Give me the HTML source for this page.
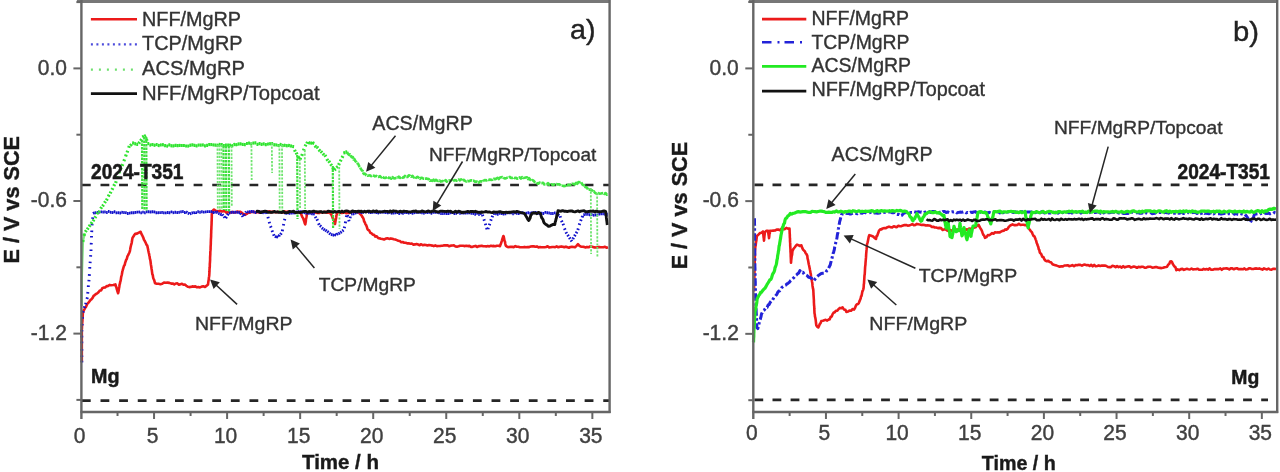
<!DOCTYPE html>
<html><head><meta charset="utf-8"><style>
html,body{margin:0;padding:0;background:#fff;width:1280px;height:472px;overflow:hidden}
svg{display:block;filter:blur(0.55px);font-family:"Liberation Sans", sans-serif}
</style></head><body>
<svg width="1280" height="472" viewBox="0 0 1280 472" font-family='"Liberation Sans", sans-serif'>
<rect width="1280" height="472" fill="#fff"/>
<line x1="81.9" y1="185" x2="609" y2="185" stroke="#262626" stroke-width="2.7" stroke-dasharray="8.8 9.82"/>
<line x1="81.9" y1="400.6" x2="609" y2="400.6" stroke="#262626" stroke-width="2.7" stroke-dasharray="8.8 9.82"/>
<polyline points="81.8,361.8 81.8,360.0 81.8,359.2 81.8,356.8 81.8,356.0 81.8,354.2 81.8,352.2 81.8,351.3 81.8,349.2 81.8,348.2 81.8,346.2 81.8,344.7 81.8,343.6 81.8,342.6 81.8,340.1 81.8,338.8 81.8,337.8 81.8,336.7 81.8,334.7 81.8,332.9 81.8,332.2 81.8,329.4 81.9,328.9 82.0,326.6 82.1,324.8 82.2,323.2 82.3,321.9 82.4,321.1 82.5,318.6 82.6,317.6 82.7,316.1 82.8,314.2 82.9,312.9 83.6,310.7 84.4,309.3 85.1,308.0 85.8,307.2 86.6,305.4 87.3,303.7 88.4,302.8 89.4,301.4 90.5,299.9 91.5,299.3 92.6,297.9 93.6,295.9 94.7,295.1 96.0,294.0 97.2,293.4 98.5,292.2 99.8,290.5 101.1,290.5 102.3,288.2 103.6,287.6 105.1,287.5 106.6,286.1 108.0,286.1 109.5,284.9 111.0,285.2 113.2,285.0 115.4,284.4 115.9,286.3 116.3,287.0 116.8,289.1 117.2,290.4 117.6,291.9 118.1,293.2 118.4,292.1 118.7,290.6 119.0,288.3 119.3,286.9 119.6,284.4 119.9,283.7 120.2,282.0 120.6,280.9 120.9,279.1 121.2,276.8 121.6,275.4 121.9,274.2 122.3,271.7 122.6,270.7 123.1,268.8 123.6,267.2 124.1,265.6 124.7,265.0 125.2,262.6 125.7,261.2 126.2,259.8 126.8,259.0 127.4,256.4 128.0,255.4 128.6,254.1 129.2,253.0 129.8,251.4 130.1,249.9 130.5,247.5 130.8,246.2 131.2,244.5 131.5,243.7 131.8,242.2 132.2,239.5 132.5,237.9 133.4,236.5 134.3,235.0 135.2,233.9 137.0,233.6 138.8,232.6 140.6,231.8 141.5,234.1 142.4,235.7 143.3,237.6 143.9,239.5 144.6,240.6 145.2,241.8 145.9,243.3 146.5,244.8 147.2,245.4 147.8,248.0 148.1,249.4 148.4,251.1 148.7,252.6 149.0,253.6 149.3,255.3 149.6,256.4 149.9,258.8 150.2,259.6 150.5,261.2 150.7,263.0 150.9,264.5 151.2,266.3 151.4,267.5 151.6,269.0 151.9,270.8 152.1,272.3 152.3,274.2 152.8,275.2 153.2,277.9 153.7,279.1 154.1,279.9 154.6,281.6 155.0,283.2 156.8,283.7 158.6,283.8 160.4,284.2 162.2,283.8 164.0,282.5 165.8,282.8 167.6,282.6 169.4,282.9 171.2,283.6 172.7,283.5 174.3,284.4 175.8,283.5 177.4,283.4 178.9,284.8 180.5,284.3 182.0,283.8 183.4,284.8 184.9,284.6 186.3,285.7 187.8,286.8 189.2,287.1 190.7,286.9 192.3,286.4 193.8,286.6 195.4,286.4 196.9,287.3 198.5,287.0 200.0,287.4 201.7,286.6 203.3,286.3 205.0,286.9 206.5,285.9 208.0,284.5 208.2,282.9 208.4,281.4 208.7,279.8 208.9,277.6 209.1,276.5 209.3,274.8 209.4,272.8 209.5,271.2 209.5,270.0 209.6,268.4 209.7,267.5 209.8,266.3 209.8,264.0 209.9,263.1 210.0,261.6 210.1,260.0 210.1,257.6 210.2,255.9 210.3,254.3 210.3,252.7 210.4,251.1 210.5,250.2 210.6,249.0 210.6,247.4 210.7,245.3 210.8,244.0 210.8,242.6 210.9,240.0 210.9,239.3 211.0,238.1 211.1,236.3 211.1,234.7 211.2,232.8 211.2,230.8 211.3,230.1 211.4,227.9 211.4,227.0 211.5,225.7 211.6,223.3 211.6,221.8 211.7,221.0 211.7,219.1 211.8,216.8 211.8,215.1 211.9,213.6 211.9,213.1 212.0,211.4 214.0,209.5 215.6,210.7 217.1,211.2 218.7,211.1 220.3,210.9 221.9,211.5 223.4,211.2 225.0,211.3 226.5,212.7 228.0,212.2 229.5,212.0 231.0,212.6 232.5,211.9 234.0,212.5 235.5,212.5 237.0,211.6 238.5,211.7 240.0,211.7 241.7,212.6 243.3,214.1 245.0,214.7 246.7,213.9 248.3,212.5 250.0,212.6 251.5,211.8 253.0,211.9 254.5,212.1 256.1,212.6 257.6,211.9 259.1,212.6 260.6,212.0 262.1,212.0 263.6,212.0 265.2,211.3 266.7,211.9 268.2,211.6 269.7,211.3 271.2,212.4 272.7,211.5 274.2,212.0 275.8,212.3 277.3,212.1 278.8,211.8 280.3,212.0 281.8,212.1 283.3,212.4 284.8,211.4 286.4,212.1 287.9,211.6 289.4,211.7 290.9,212.4 292.4,212.0 293.9,212.1 295.5,212.4 297.0,212.6 298.5,211.9 300.0,212.2 300.8,213.5 301.5,215.0 302.2,216.8 303.0,217.9 303.6,219.5 304.1,221.0 304.7,223.1 305.3,224.3 305.5,223.0 305.8,221.5 306.0,218.9 306.3,217.8 306.5,216.8 306.8,215.0 307.0,212.5 308.5,212.4 310.1,212.8 311.6,212.2 313.1,212.4 314.7,212.1 316.2,212.8 317.7,212.9 319.3,213.0 320.8,211.9 322.3,212.6 323.9,212.5 325.4,211.7 326.9,212.7 328.5,212.7 330.0,211.6 330.8,214.1 331.5,214.9 332.2,216.5 333.0,218.7 333.5,220.0 334.0,220.5 334.5,222.4 335.0,224.0 335.3,222.2 335.6,220.4 335.9,219.0 336.1,218.0 336.4,215.5 336.7,214.6 337.0,212.9 338.5,212.2 340.1,212.6 341.6,212.9 343.2,212.7 344.7,212.0 346.2,213.2 347.8,212.9 349.3,213.0 350.8,211.8 352.4,211.9 353.9,211.5 355.5,212.5 357.0,211.7 358.6,212.5 360.1,213.9 361.7,215.6 362.3,216.9 363.0,217.7 363.6,219.0 364.2,221.6 364.9,222.6 365.5,224.3 366.1,224.9 366.7,226.4 367.4,228.8 368.0,229.9 369.2,230.5 370.4,232.8 371.6,233.4 372.8,234.7 374.0,234.8 375.4,236.6 376.7,236.2 378.1,238.1 379.4,238.2 380.8,238.8 382.5,239.0 384.1,239.5 385.8,238.6 387.5,238.3 389.1,238.9 390.8,238.4 392.3,238.7 393.8,239.2 395.3,239.5 396.8,240.1 398.3,240.7 399.8,241.1 401.2,242.2 402.7,242.0 404.2,242.7 405.7,242.7 407.2,243.4 408.7,243.3 410.3,243.7 411.8,243.5 413.4,244.6 415.0,244.4 416.5,244.0 418.1,244.5 419.7,245.2 421.2,244.2 422.8,245.3 424.4,244.8 425.9,245.0 427.5,245.5 429.0,245.0 430.6,245.3 432.2,245.6 433.7,246.1 435.3,245.3 436.9,246.1 438.4,246.0 440.0,246.0 441.5,245.7 443.1,245.6 444.6,245.2 446.2,245.4 447.7,245.3 449.3,246.3 450.8,245.6 452.4,245.5 453.9,245.4 455.5,246.5 457.0,246.6 458.6,246.3 460.1,245.8 461.7,245.7 463.2,245.8 464.8,246.1 466.3,245.7 467.9,246.1 469.4,245.9 471.0,246.9 472.5,246.9 474.1,246.3 475.6,245.9 477.1,247.0 478.7,246.1 480.2,246.1 481.7,245.7 483.2,246.2 484.8,246.3 486.3,246.4 487.8,246.0 489.3,246.4 490.9,245.7 492.4,246.1 493.9,245.9 495.4,246.3 496.9,245.8 498.5,245.8 500.0,246.2 500.5,244.6 501.0,243.5 501.5,241.8 501.9,240.6 502.4,238.9 502.9,237.4 503.4,236.0 503.8,236.9 504.1,238.4 504.5,240.9 504.9,241.3 505.3,243.7 505.6,245.1 506.0,245.9 507.5,247.0 509.1,247.1 510.6,246.7 512.2,246.9 513.7,247.1 515.3,246.1 516.8,246.7 518.4,246.7 519.9,247.2 521.5,247.2 523.0,247.2 524.5,246.9 526.1,247.3 527.6,247.1 529.2,247.1 530.7,246.5 532.3,246.2 533.8,246.4 535.4,246.7 536.9,246.4 538.5,247.4 540.0,247.1 541.5,247.2 543.0,247.2 544.6,247.3 546.1,247.0 547.6,246.3 549.1,247.4 550.7,247.3 552.2,247.0 553.7,247.0 555.2,247.2 556.7,246.4 558.3,247.3 559.8,246.7 561.3,246.4 562.8,246.7 564.3,247.3 565.9,246.6 567.4,247.3 568.9,247.7 570.4,247.0 572.0,246.8 573.5,247.0 575.0,247.3 576.5,245.9 578.0,244.2 579.5,245.8 581.0,246.6 582.5,246.7 584.0,246.9 585.5,247.5 587.0,246.9 588.5,247.3 590.0,246.5 591.5,246.6 593.0,246.9 594.5,247.4 596.0,247.5 597.5,247.4 599.0,246.9 600.5,247.2 602.0,247.2 603.5,247.2 605.0,246.7 606.5,247.8 608.0,247.2" fill="none" stroke="#ec1a1a" stroke-width="2.6" stroke-linejoin="round" />
<path d="M81.8 362.4L81.8 360.8M81.8 357.0L81.8 355.4M81.8 350.7L81.8 349.1M81.8 343.2L81.8 341.6M81.8 337.4L81.8 335.8M81.8 331.5L81.8 329.9M82.1 325.5L82.2 323.9M82.5 318.7L82.6 317.1M82.9 312.5L83.4 311.0M84.2 308.0L84.7 306.4M85.6 304.3L86.0 302.8M86.9 299.0L87.4 297.4M87.7 293.6L87.9 292.0M88.3 287.0L88.4 285.4M88.9 281.4L89.0 279.8M89.3 275.8L89.4 274.2M89.7 268.6L89.8 267.0M90.1 263.2L90.2 261.7M90.6 256.7L90.7 255.1M91.0 251.0L91.0 249.4M91.2 244.5L91.3 242.9M91.5 237.6L91.5 236.0M91.7 232.1L91.8 230.5M92.0 225.4L92.1 223.8M92.6 218.9L92.8 217.4M93.0 213.6L94.4 212.8M94.8 213.1L96.2 212.4M96.6 212.4L98.2 212.4M98.5 212.2L100.1 212.1M100.4 211.9L102.0 211.9M102.3 212.1L103.9 212.0M104.2 212.0L105.8 211.9M106.1 212.5L107.7 212.5M108.0 211.5L109.6 211.4M109.9 212.3L111.5 212.4M111.8 212.5L113.4 212.6M113.7 211.7L115.3 211.8M115.6 212.8L117.2 212.9M117.5 212.6L119.1 212.7M119.4 213.0L121.0 213.0M121.3 212.3L122.9 212.4M123.2 212.5L124.8 212.6M125.1 212.6L126.7 212.7M127.0 213.5L128.6 213.5M128.9 213.1L130.5 213.1M130.8 212.8L132.4 212.7M132.7 212.8L134.3 212.7M134.6 212.5L136.2 212.4M136.5 212.1L138.1 212.1M138.4 212.1L140.0 212.0M140.3 212.9L141.9 212.8M142.2 212.1L143.8 212.1M144.1 212.8L145.7 212.7M146.0 211.9L147.6 211.8M147.9 211.8L149.5 211.7M149.8 212.0L151.4 212.0M151.7 211.7L153.3 211.7M153.6 211.9L155.2 212.0M155.5 212.7L157.1 212.7M157.4 212.6L159.0 212.7M159.3 212.6L160.9 212.6M161.2 212.4L162.8 212.5M163.1 212.8L164.7 212.9M165.0 212.9L166.6 212.9M166.9 212.5L168.5 212.5M168.8 212.7L170.4 212.8M170.7 211.9L172.3 211.9M172.6 212.7L174.2 212.6M174.5 212.3L176.1 212.2M176.4 212.6L178.0 212.5M178.3 212.4L179.9 212.3M180.2 211.9L181.8 211.8M182.1 211.6L183.7 211.5M184.0 212.5L185.6 212.5M186.0 211.9L187.5 212.5M187.9 213.1L189.4 213.7M189.8 213.9L191.2 213.3M191.6 213.1L193.1 212.5M193.5 212.9L195.0 212.3M195.4 212.6L197.0 212.6M197.3 211.7L198.9 211.7M199.2 212.2L200.8 212.2M201.1 211.8L202.7 211.8M203.0 212.1L204.6 212.1M204.9 211.9L206.5 211.9M206.8 211.6L208.4 211.6M208.7 211.6L210.3 211.6M210.6 211.6L212.2 211.6M212.5 212.5L214.1 212.5M214.4 211.8L215.9 212.3M216.3 212.0L217.8 212.5M218.2 213.4L219.7 213.8M220.1 214.0L221.6 214.5M222.2 214.3L223.1 215.6M224.0 216.4L224.9 217.7M225.7 218.2L226.6 216.8M227.4 215.2L228.2 213.8M228.8 212.8L230.4 212.7M230.7 212.4L232.3 212.2M232.6 212.4L234.2 212.2M234.5 212.2L236.1 212.1M236.4 212.4L238.0 212.3M238.3 212.6L239.9 212.5M240.5 213.1L241.3 214.5M242.2 215.5L243.0 216.9M243.9 215.4L244.7 214.1M245.6 212.7L246.4 211.4M247.1 211.9L248.7 211.9M249.0 211.8L250.6 211.8M250.9 211.5L252.5 211.5M252.8 211.7L254.4 211.7M254.7 212.6L256.3 212.6M256.6 211.6L258.2 211.6M258.5 212.0L260.1 212.0M260.4 212.2L262.0 212.2M262.3 212.5L263.9 212.8M264.2 212.1L265.8 212.4M266.6 212.1L267.1 213.7M267.9 216.8L268.3 218.4M269.2 221.8L269.6 223.3M270.5 226.1L271.1 227.6M272.0 230.5L272.6 232.0M273.5 234.2L274.1 235.7M275.0 236.2L276.3 237.1M276.8 236.5L278.1 237.5M278.8 236.2L279.7 234.9M280.5 234.5L281.4 233.1M282.3 231.2L282.6 229.6M283.4 225.5L283.7 223.9M284.5 220.4L284.8 218.9M285.6 214.5L285.9 213.0M286.6 212.8L288.2 212.7M288.5 213.3L290.1 213.2M290.4 213.1L292.0 213.0M292.3 213.0L293.9 212.9M294.2 213.0L295.8 212.9M296.1 212.0L297.7 211.9M298.0 211.7L299.6 211.6M299.9 211.6L301.5 211.7M301.8 212.2L303.4 212.4M303.7 212.6L305.3 212.7M305.6 213.1L307.2 213.2M307.5 213.0L309.1 213.2M309.4 213.0L311.0 213.4M311.3 213.6L312.9 214.0M313.2 213.8L314.8 214.1M315.3 216.6L316.0 218.0M316.9 219.2L317.6 220.7M318.5 223.4L319.2 224.8M319.9 225.6L321.2 226.6M321.8 227.9L323.0 228.9M323.6 229.1L324.9 230.1M325.5 230.2L326.7 231.2M327.3 231.4L328.6 232.4M329.2 233.1L330.4 234.1M330.9 234.4L332.5 234.8M332.8 234.9L334.4 235.3M334.7 234.7L336.3 235.1M336.7 234.5L338.0 233.6M338.6 233.8L339.9 232.9M340.4 232.6L341.7 231.7M342.3 231.0L343.6 230.1M344.3 228.1L344.6 226.6M345.3 223.2L345.6 221.6M346.3 217.1L346.6 215.6M347.4 215.1L347.8 216.6M348.7 219.8L349.1 221.4M350.0 218.1L350.4 216.5M351.0 214.2L352.5 213.8M352.9 214.0L354.4 213.7M354.8 213.1L356.3 212.8M356.7 212.4L358.2 212.1M358.6 212.0L360.1 211.7M360.4 212.6L362.0 212.6M362.3 212.3L363.9 212.3M364.2 211.9L365.8 211.9M366.1 211.6L367.7 211.6M368.0 212.2L369.6 212.2M369.9 212.5L371.5 212.5M371.8 212.2L373.4 212.2M373.7 212.1L375.3 212.1M375.6 212.6L377.2 212.6M377.5 212.9L379.1 213.0M379.4 212.2L381.0 212.2M381.3 212.0L382.9 212.0M383.2 212.4L384.8 212.4M385.1 212.5L386.7 212.6M387.0 212.9L388.6 212.9M388.9 212.4L390.5 212.4M390.8 213.1L392.4 213.2M392.7 213.1L394.3 213.1M394.6 212.9L396.2 212.9M396.5 212.6L398.1 212.6M398.4 213.5L400.0 213.6M400.3 212.8L401.9 212.7M402.2 213.3L403.8 213.3M404.1 212.6L405.7 212.5M406.0 212.5L407.6 212.5M407.9 213.1L409.5 213.1M409.8 212.5L411.4 212.5M411.7 213.2L413.3 213.2M413.6 212.7L415.2 212.6M415.5 212.2L417.1 212.2M417.4 212.2L419.0 212.2M419.3 212.4L420.9 212.4M421.2 212.7L422.8 212.8M423.1 213.1L424.7 213.2M425.0 212.2L426.6 212.2M426.9 212.5L428.5 212.6M428.8 212.4L430.4 212.4M430.7 213.3L432.3 213.4M432.6 212.4L434.2 212.4M434.5 212.3L436.1 212.4M436.4 212.4L438.0 212.4M438.3 212.8L439.9 212.9M440.2 213.5L441.8 213.5M442.1 213.5L443.7 213.5M444.0 213.3L445.6 213.3M445.9 213.6L447.5 213.6M447.8 213.5L449.4 213.5M449.7 212.8L451.3 212.8M451.6 212.6L453.2 212.6M453.5 213.5L455.1 213.5M455.4 213.3L457.0 213.3M457.3 212.4L458.9 212.4M459.2 213.2L460.8 213.2M461.1 212.9L462.7 213.0M463.0 213.0L464.6 213.1M464.9 213.0L466.5 213.1M466.8 212.9L468.4 213.0M468.7 212.8L470.3 212.9M470.6 213.2L472.2 213.3M472.5 213.4L474.1 213.5M474.4 214.2L476.0 214.3M476.3 213.3L477.9 213.4M478.2 214.4L479.8 214.5M480.1 213.6L481.7 213.6M482.4 214.8L482.9 216.3M483.9 219.3L484.4 220.8M485.3 223.6L485.8 225.1M486.6 227.7L487.0 229.3M487.9 229.1L488.4 227.6M489.3 225.2L489.8 223.7M490.7 220.8L491.2 219.3M492.1 217.2L492.6 215.7M493.2 213.6L494.8 213.6M495.1 213.8L496.7 213.7M497.0 214.3L498.6 214.3M498.9 213.2L500.5 213.2M500.8 213.6L502.4 213.5M502.7 214.0L504.3 214.0M504.6 213.9L506.2 213.8M506.5 212.9L508.1 212.9M508.4 212.9L510.0 212.8M510.3 212.8L511.9 212.8M512.2 213.8L513.8 213.7M514.1 212.9L515.7 212.9M516.0 213.4L517.6 213.4M517.9 213.6L519.5 213.5M519.8 212.8L521.4 212.8M521.7 212.7L523.3 212.7M523.6 213.5L525.2 213.5M525.5 213.1L527.1 213.1M527.4 212.7L529.0 212.7M529.3 213.3L530.9 213.3M531.2 212.8L532.8 212.8M533.1 212.7L534.7 212.7M535.0 212.4L536.6 212.4M536.9 213.3L538.5 213.3M538.8 213.5L540.4 213.5M540.7 213.2L542.3 213.2M542.6 213.5L544.2 213.5M544.5 212.4L546.1 212.4M546.4 212.7L548.0 212.7M548.3 213.0L549.9 213.0M550.2 213.5L551.8 213.5M552.1 213.5L553.7 213.5M554.0 212.9L555.6 212.9M556.0 213.3L557.4 214.1M557.9 214.6L559.2 215.5M560.1 216.1L560.6 217.6M561.5 220.6L562.1 222.1M563.0 223.7L563.6 225.2M564.5 228.4L565.1 229.9M565.9 232.1L566.7 233.5M567.6 234.9L568.5 236.3M569.3 237.6L570.2 238.9M571.0 240.1L571.9 241.4M572.8 239.0L573.6 237.6M574.4 236.1L575.3 234.7M576.1 233.3L577.0 231.9M577.8 230.0L578.3 228.5M579.2 225.0L579.7 223.5M580.6 221.0L581.2 219.5M582.1 217.5L582.6 215.9M583.3 214.7L584.9 214.6M585.2 214.4L586.8 214.3M587.1 214.3L588.7 214.2M589.0 214.8L590.6 214.8M590.9 214.5L592.5 214.4M592.8 215.2L594.4 215.1M594.7 215.0L596.3 214.9M596.6 215.0L598.2 215.0M598.5 214.1L600.1 214.0M600.4 213.8L602.0 213.7M602.3 213.7L603.9 213.7M604.2 214.2L605.8 214.1M606.1 214.3L607.7 214.3" fill="none" stroke="#1212cc" stroke-width="2.9" stroke-linecap="butt" />
<polyline points="81.8,306.0 81.8,280.0 82.4,259.6 83.0,241.0 84.7,233.0" fill="none" stroke="#7ee47e" stroke-width="2.2" stroke-linejoin="round" />
<path d="M82.8 241.8L83.2 240.0M84.0 235.8L84.4 233.9M85.3 231.9L86.4 230.3M87.2 229.4L88.3 227.8M89.1 226.6L90.2 225.0M91.1 223.8L92.1 222.2M93.0 221.1L94.0 219.5M94.9 217.9L95.9 216.3M96.8 214.2L97.9 212.6M98.7 212.4L99.8 210.9M100.6 208.7L101.7 207.1M102.5 206.2L103.6 204.7M104.5 202.9L105.5 201.3M106.4 200.4L107.3 198.8M108.2 196.5L109.2 194.8M110.2 193.4L111.0 191.7M112.0 189.8L112.8 188.1M113.8 186.0L114.6 184.3M115.6 183.1L116.2 181.3M117.2 178.1L117.8 176.3M118.8 173.2L119.4 171.4M120.4 169.1L121.1 167.3M122.1 165.9L122.8 164.2M123.8 161.1L124.6 159.3M125.6 156.4L126.2 154.6M127.1 152.6L127.7 150.8M128.7 147.7L129.3 145.9M130.3 145.7L131.6 144.2M132.1 142.9L134.0 143.1M134.2 143.7L136.1 143.8M136.3 144.4L138.2 144.5M138.7 143.5L139.7 142.0M140.6 140.8L141.6 139.2M142.3 137.1L143.9 136.2M144.4 136.3L146.0 135.4M146.4 139.0L146.9 140.9M147.3 143.5L149.2 143.6M149.4 144.9L151.3 145.1M151.5 144.5L153.4 144.6M153.6 145.2L155.5 145.3M155.7 144.5L157.6 144.6M157.8 145.4L159.7 145.6M159.9 144.9L161.8 145.0M162.0 144.7L163.9 144.8M164.1 145.6L166.0 145.7M166.2 146.0L168.1 146.1M168.3 144.8L170.2 144.9M170.4 145.7L172.3 145.8M172.5 145.8L174.4 145.9M174.6 145.3L176.5 145.4M176.7 145.6L178.6 145.7M178.8 145.4L180.7 145.5M180.9 145.5L182.8 145.5M183.0 145.5L184.9 145.5M185.1 146.0L187.0 146.0M187.2 146.1L189.1 146.0M189.3 145.3L191.2 145.2M191.4 144.9L193.3 144.9M193.5 145.4L195.4 145.3M195.6 145.9L197.5 145.8M197.7 145.1L199.6 145.0M199.8 145.2L201.7 145.1M201.9 145.0L203.8 144.9M204.0 145.9L205.9 145.8M206.1 145.4L208.0 145.3M208.2 144.6L210.1 144.5M210.3 144.6L212.2 144.5M212.4 145.0L214.3 144.9M214.5 145.2L216.4 145.1M216.6 145.2L218.5 145.3M218.7 144.4L220.6 144.5M220.8 144.6L222.7 144.7M222.9 145.5L224.8 145.6M225.0 145.2L226.9 145.2M227.1 145.0L229.0 145.1M229.2 145.3L231.1 145.0M231.3 146.0L233.2 145.7M233.4 144.7L235.3 144.4M235.5 144.8L237.4 144.5M237.6 144.1L239.5 143.9M239.7 143.9L241.6 143.8M241.8 144.5L243.7 144.4M243.9 144.6L245.8 144.6M246.0 143.5L247.9 143.5M248.1 143.2L250.0 143.1M250.2 143.9L252.1 143.9M252.3 143.0L254.2 143.1M254.4 142.8L256.3 142.9M256.5 144.3L258.4 144.4M258.6 143.6L260.5 143.7M260.7 144.3L262.6 144.4M262.8 143.8L264.7 143.8M264.9 144.6L266.8 144.7M267.0 144.0L268.9 144.2M269.1 143.7L271.0 143.8M271.2 143.6L273.1 143.7M273.3 144.6L275.2 144.8M275.4 144.9L277.3 145.0M277.5 145.5L279.4 145.6M279.6 144.3L281.5 144.5M281.7 145.4L283.6 145.6M283.8 145.2L285.7 145.5M285.9 145.7L287.8 145.9M288.0 145.4L289.9 145.6M290.1 145.9L292.0 146.1M292.2 146.5L294.1 146.7M294.5 149.9L295.3 151.6M296.2 152.6L297.0 154.4M297.9 156.5L299.0 158.1M299.9 159.5L300.7 157.7M301.7 155.8L302.4 154.0M303.4 150.5L304.1 148.8M305.1 146.3L305.9 144.6M306.8 143.6L307.6 141.8M308.4 142.6L310.1 143.3M310.4 142.7L312.2 143.4M312.5 142.8L314.3 143.5M314.8 145.7L316.1 147.1M316.8 146.9L318.1 148.2M318.8 149.7L320.1 151.1M320.8 151.3L322.1 152.6M322.8 153.6L324.1 155.0M324.9 155.1L325.9 156.7M326.8 159.0L327.8 160.6M328.7 161.0L329.8 162.6M330.6 164.1L331.7 165.7M332.5 167.7L333.6 169.3M334.3 169.9L335.8 168.9M336.3 167.5L337.9 166.5M338.6 165.0L339.4 163.3M340.3 161.4L341.1 159.7M342.1 157.7L342.9 156.0M343.3 153.0L345.2 152.6M345.4 152.2L347.3 151.9" fill="none" stroke="#30e430" stroke-width="3.2" stroke-linecap="butt" />
<polyline points="347.0,152.0 348.0,153.8 349.0,154.9 349.9,154.3 350.9,156.1 351.9,157.3 352.8,157.0 353.6,159.5 354.5,159.2 355.4,161.1 356.3,162.0 357.1,163.2 358.0,163.7 358.7,165.0 359.3,166.4 360.0,167.2 360.7,168.7 361.3,169.5 362.0,170.6 362.7,170.9 363.3,173.1 364.0,174.0 365.2,173.9 366.4,175.3 367.6,175.7 368.8,175.5 370.0,175.4 371.2,176.1 372.5,175.5 373.8,175.7 375.0,176.4 376.2,175.9 377.5,176.6 378.8,176.9 380.0,176.2 381.2,177.4 382.5,176.5 383.8,177.8 385.0,178.0 386.2,177.6 387.5,176.9 388.8,177.9 390.0,177.8 391.2,178.7 392.5,177.1 393.8,178.3 395.0,178.4 396.2,177.8 397.5,177.8 398.8,176.6 400.0,177.9 401.2,176.9 402.5,177.6 403.8,177.4 405.0,175.9 406.2,176.9 407.5,177.0 408.8,175.3 410.0,175.7 411.2,176.7 412.5,175.9 413.8,177.5 415.0,176.6 416.2,177.8 417.5,176.9 418.8,177.8 420.0,178.8 421.2,177.7 422.5,178.1 423.8,178.8 425.0,178.7 426.2,178.4 427.5,178.9 428.8,179.1 430.0,180.8 431.2,180.4 432.4,180.9 433.6,179.7 434.8,180.9 436.0,179.8 437.2,180.7 438.4,180.9 439.6,180.5 440.8,181.6 442.0,181.1 443.2,181.1 444.4,181.6 445.6,180.1 446.8,181.6 448.0,180.9 449.2,180.4 450.4,181.1 451.6,180.0 452.8,181.3 454.0,180.5 455.2,180.0 456.4,180.7 457.6,180.0 458.8,179.5 460.0,180.4 461.2,179.3 462.5,180.8 463.8,179.9 465.0,180.8 466.2,181.5 467.5,180.9 468.8,181.2 470.0,180.7 471.2,180.2 472.5,180.4 473.8,180.7 475.0,181.7 476.2,181.5 477.5,181.8 478.8,182.6 480.0,181.3 481.2,181.3 482.5,181.8 483.8,180.4 485.0,180.1 486.2,180.5 487.5,179.8 488.8,180.0 490.0,179.5 491.2,179.9 492.5,179.7 493.8,178.7 495.0,179.2 496.2,178.7 497.5,177.8 498.8,179.0 500.0,177.5 501.2,177.3 502.5,177.1 503.8,178.0 505.0,178.4 506.2,178.2 507.4,177.6 508.7,177.3 509.9,176.9 511.1,178.0 512.3,177.9 513.6,177.5 514.8,178.1 516.0,177.7 517.2,178.7 518.4,178.3 519.7,177.4 520.9,178.6 522.1,177.1 523.3,178.0 524.6,177.8 525.8,177.5 527.0,177.2 528.1,179.1 529.2,178.2 530.3,179.8 531.4,181.0 532.6,180.1 533.7,180.8 534.8,182.1 535.9,182.5 537.0,183.3 538.2,183.7 539.4,182.6 540.7,183.0 541.9,183.1 543.1,182.8 544.3,184.4 545.5,184.3 546.7,184.3 548.0,183.1 549.2,184.8 550.4,184.7 551.6,184.3 552.8,184.9 554.0,184.5 555.3,184.2 556.5,184.1 557.7,184.4 558.9,184.2 560.1,184.9 561.3,185.7 562.6,185.7 563.8,186.1 565.0,186.0 566.2,184.9 567.5,185.2 568.7,184.7 569.9,185.1 571.2,184.4 572.4,183.7 573.6,184.1 574.8,184.5 576.1,182.9 577.3,183.8 578.5,182.0 579.8,182.2 581.0,181.9 581.9,183.7 582.8,184.9 583.6,185.3 584.5,185.4 585.4,187.2 586.2,187.0 587.1,187.7 588.0,189.7 589.3,189.6 590.7,190.0 592.0,190.3 593.0,191.6 594.0,191.4 595.0,192.9 596.0,193.4 597.2,193.7 598.4,193.1 599.6,193.7 600.8,193.5 602.0,193.2 603.2,193.1 604.4,193.9 605.6,193.0 606.8,194.6 608.0,194.0" fill="none" stroke="#44e644" stroke-width="2.6" stroke-linejoin="round" stroke-dasharray="5 0.8" />
<line x1="217.5" y1="145" x2="217.8" y2="210" stroke="#6ee46e" stroke-width="1.8" stroke-dasharray="2.2 1.4"/>
<line x1="219.5" y1="145" x2="219.8" y2="210" stroke="#6ee46e" stroke-width="1.8" stroke-dasharray="2.2 1.4"/>
<line x1="221.5" y1="145" x2="221.8" y2="210" stroke="#6ee46e" stroke-width="1.8" stroke-dasharray="2.2 1.4"/>
<line x1="231.5" y1="146" x2="231.8" y2="206" stroke="#6ee46e" stroke-width="1.8" stroke-dasharray="2.2 1.4"/>
<line x1="251.4" y1="142" x2="251.70000000000002" y2="180" stroke="#6ee46e" stroke-width="1.8" stroke-dasharray="2.2 1.4"/>
<line x1="271.8" y1="143" x2="272.1" y2="173" stroke="#6ee46e" stroke-width="1.8" stroke-dasharray="2.2 1.4"/>
<line x1="279.4" y1="145" x2="279.7" y2="211" stroke="#6ee46e" stroke-width="1.8" stroke-dasharray="2.2 1.4"/>
<line x1="282" y1="145" x2="282.3" y2="211" stroke="#6ee46e" stroke-width="1.8" stroke-dasharray="2.2 1.4"/>
<line x1="299.8" y1="159" x2="300.1" y2="209" stroke="#6ee46e" stroke-width="1.8" stroke-dasharray="2.2 1.4"/>
<line x1="304.8" y1="150" x2="305.1" y2="209" stroke="#6ee46e" stroke-width="1.8" stroke-dasharray="2.2 1.4"/>
<line x1="339.2" y1="167" x2="339.5" y2="229" stroke="#6ee46e" stroke-width="1.8" stroke-dasharray="2.2 1.4"/>
<line x1="590.8" y1="188" x2="591.0999999999999" y2="254" stroke="#6ee46e" stroke-width="1.8" stroke-dasharray="2.2 1.4"/>
<line x1="597.1" y1="193" x2="597.4" y2="257" stroke="#6ee46e" stroke-width="1.8" stroke-dasharray="2.2 1.4"/>
<line x1="142" y1="140" x2="142.3" y2="210" stroke="#3ee03e" stroke-width="2.2" stroke-dasharray="2.5 1"/>
<line x1="144.2" y1="137" x2="144.5" y2="210" stroke="#3ee03e" stroke-width="2.2" stroke-dasharray="2.5 1"/>
<line x1="146.3" y1="137" x2="146.60000000000002" y2="211" stroke="#3ee03e" stroke-width="2.2" stroke-dasharray="2.5 1"/>
<line x1="223.5" y1="146" x2="223.8" y2="210" stroke="#3ee03e" stroke-width="2.2" stroke-dasharray="2.5 1"/>
<line x1="226" y1="146" x2="226.3" y2="211" stroke="#3ee03e" stroke-width="2.2" stroke-dasharray="2.5 1"/>
<line x1="228.8" y1="146" x2="229.10000000000002" y2="212" stroke="#3ee03e" stroke-width="2.2" stroke-dasharray="2.5 1"/>
<line x1="297.2" y1="155" x2="297.5" y2="219" stroke="#3ee03e" stroke-width="2.2" stroke-dasharray="2.5 1"/>
<line x1="332.8" y1="166" x2="333.1" y2="229" stroke="#3ee03e" stroke-width="2.2" stroke-dasharray="2.5 1"/>
<polyline points="256.0,211.5 257.5,211.3 259.0,211.4 260.6,212.6 262.1,211.8 263.6,211.5 265.1,211.3 266.6,211.4 268.1,212.3 269.7,212.2 271.2,212.3 272.7,212.3 274.2,211.4 275.7,212.1 277.2,211.8 278.8,212.4 280.3,212.4 281.8,212.5 283.3,211.4 284.8,212.5 286.3,212.6 287.9,212.6 289.4,211.4 290.9,211.6 292.4,211.5 293.9,211.3 295.4,212.5 297.0,212.4 298.5,212.2 300.0,212.5 301.5,212.2 303.0,211.7 304.5,211.4 306.0,211.4 307.5,212.3 309.0,211.5 310.5,211.7 312.0,211.8 313.5,211.2 315.0,211.5 316.5,211.6 318.0,212.2 319.5,211.7 321.0,211.6 322.5,212.5 324.0,211.8 325.5,212.3 327.0,211.9 328.5,211.1 330.0,211.6 331.5,211.6 333.0,212.1 334.5,211.5 336.0,212.0 337.5,211.7 339.0,211.3 340.5,212.2 342.0,211.1 343.5,212.1 345.0,211.2 346.5,210.9 348.0,211.2 349.5,212.0 351.0,212.2 352.5,210.9 354.0,211.5 355.5,211.5 357.0,211.9 358.5,211.1 360.0,211.5 361.5,211.3 363.0,212.0 364.5,211.2 366.0,212.1 367.6,211.2 369.1,211.1 370.6,211.8 372.1,211.5 373.6,211.0 375.1,211.7 376.6,210.9 378.1,211.9 379.6,211.8 381.1,211.9 382.7,211.7 384.2,211.3 385.7,211.4 387.2,211.4 388.7,212.0 390.2,210.9 391.7,212.0 393.2,210.8 394.7,211.1 396.3,211.2 397.8,212.1 399.3,211.5 400.8,211.3 402.3,212.0 403.8,211.1 405.3,211.4 406.8,211.5 408.3,211.9 409.9,211.9 411.4,211.7 412.9,211.3 414.4,211.3 415.9,211.0 417.4,212.0 418.9,211.7 420.4,211.8 421.9,211.0 423.4,211.4 425.0,211.9 426.5,211.6 428.0,211.0 429.5,211.4 431.0,212.0 432.5,211.1 434.1,211.1 435.6,211.3 437.1,211.8 438.7,212.1 440.2,211.1 441.7,211.1 443.2,211.3 444.8,211.4 446.3,211.7 447.8,211.2 449.4,211.4 450.9,211.3 452.4,212.4 454.0,212.1 455.5,211.2 457.0,212.4 458.6,211.2 460.1,211.6 461.6,212.5 463.2,212.2 464.7,212.2 466.2,211.8 467.8,211.4 469.3,212.1 470.8,211.4 472.3,211.5 473.9,211.8 475.4,211.3 476.9,211.8 478.5,212.4 480.0,212.3 481.5,212.0 483.1,212.2 484.6,211.9 486.2,211.5 487.7,212.1 489.2,211.9 490.8,212.3 492.3,212.6 493.8,211.9 495.4,212.1 496.9,212.3 498.5,211.9 500.0,211.6 501.5,212.3 503.1,212.5 504.6,212.4 506.2,212.3 507.7,212.5 509.2,212.3 510.8,212.2 512.3,211.9 513.8,211.7 515.4,212.2 516.9,211.4 518.5,211.9 520.0,212.4 522.0,212.8 524.0,213.2 525.0,214.2 525.9,215.9 526.9,217.5 527.8,219.3 528.8,220.5 529.4,219.3 530.1,218.2 530.7,215.6 531.4,214.7 532.0,213.4 533.6,212.8 535.2,213.0 536.8,213.7 538.4,212.4 540.0,213.1 540.6,213.9 541.2,216.2 541.8,217.9 542.4,218.7 543.0,219.5 543.6,221.6 544.2,223.0 545.6,224.3 547.1,225.1 548.5,226.3 550.1,226.0 551.6,225.1 553.2,224.4 554.8,224.6 555.2,222.0 555.6,221.1 556.0,219.1 556.4,218.0 556.8,215.5 557.2,215.2 557.6,212.7 558.0,210.7 559.5,211.0 561.1,211.2 562.6,210.6 564.1,211.2 565.7,211.2 567.2,211.6 568.7,211.1 570.3,211.0 571.8,210.9 573.4,211.6 574.9,211.9 576.4,211.3 578.0,210.9 579.5,211.7 581.0,211.1 582.6,210.9 584.1,210.8 585.6,211.7 587.2,211.7 588.7,211.5 590.2,211.3 591.8,211.4 593.3,210.9 594.9,211.9 596.4,211.1 597.9,211.5 599.5,211.7 601.0,211.7 602.5,211.3 604.1,211.0 605.6,211.4 605.8,212.3 606.0,214.8 606.2,215.7 606.4,217.9 606.5,218.6 606.7,220.3 606.9,221.6 607.1,223.4 607.3,225.0" fill="none" stroke="#111" stroke-width="2.9" stroke-linejoin="round" />
<line x1="754.4" y1="184.9" x2="1268" y2="184.9" stroke="#262626" stroke-width="2.7" stroke-dasharray="8.8 9.3"/>
<line x1="754.4" y1="399.8" x2="1268" y2="399.8" stroke="#262626" stroke-width="2.7" stroke-dasharray="8.8 9.3"/>
<polyline points="754.0,291.5 754.0,289.7 754.1,289.4 754.1,287.1 754.1,285.6 754.2,284.2 754.2,283.0 754.2,281.4 754.3,280.2 754.3,278.8 754.4,276.8 754.4,276.2 754.4,274.6 754.5,271.8 754.5,271.5 754.5,270.1 754.6,268.5 754.6,265.9 754.6,265.5 754.7,263.7 754.7,261.2 754.8,259.7 754.8,259.7 754.8,257.7 754.9,255.6 754.9,253.9 754.9,252.4 755.0,251.1 755.0,250.4 755.2,248.2 755.4,246.2 755.6,245.8 755.8,244.1 756.1,241.5 756.3,241.0 756.5,239.0 756.7,237.7 756.9,235.9 758.4,234.7 759.9,233.1 761.5,232.8 763.0,231.5 763.2,233.9 763.4,235.2 763.6,237.2 763.8,238.3 764.0,240.6 764.2,238.5 764.4,236.4 764.6,234.8 764.8,233.0 765.0,232.0 766.5,230.8 768.0,230.9 768.2,232.2 768.5,234.5 768.8,236.2 769.0,238.1 769.2,236.8 769.5,233.7 769.8,233.3 770.0,230.9 771.7,230.8 773.3,230.6 775.0,230.5 776.7,229.6 778.3,229.5 780.0,230.2 781.6,228.6 783.2,229.3 784.8,229.1 786.3,227.9 787.9,228.6 789.5,228.5 789.6,230.4 789.6,231.0 789.7,233.6 789.8,234.4 789.8,235.9 789.9,238.1 790.0,238.3 790.0,240.9 790.1,242.4 790.2,243.4 790.2,245.8 790.3,246.6 790.4,248.3 790.5,249.9 790.5,251.9 790.6,252.5 790.7,254.4 790.7,256.0 790.8,257.7 790.9,259.7 790.9,260.4 791.0,262.8 791.2,260.4 791.4,258.9 791.6,256.8 791.9,255.5 792.1,254.6 792.3,252.3 792.5,250.9 793.6,248.7 794.8,247.2 795.9,245.7 797.0,244.6 798.5,245.2 799.9,246.0 801.4,245.3 802.2,247.8 803.1,249.6 803.9,250.5 804.8,251.2 805.6,253.1 806.5,254.1 807.3,255.9 807.6,258.6 807.9,259.5 808.2,261.1 808.5,262.8 808.8,264.5 809.1,265.5 809.4,266.9 809.7,268.4 810.0,270.0 810.3,271.4 810.5,273.1 810.8,273.9 811.0,276.2 811.3,277.4 811.5,279.5 811.8,280.0 812.0,281.7 812.3,283.0 812.5,285.7 812.8,287.5 813.0,288.7 813.3,289.8 813.4,292.0 813.5,293.5 813.5,294.6 813.6,295.7 813.7,297.2 813.8,299.0 813.9,300.3 813.9,302.0 814.0,303.8 814.1,305.8 814.2,305.9 814.3,308.3 814.3,308.9 814.4,310.6 814.5,313.2 814.8,314.5 815.0,316.7 815.3,317.7 815.5,318.7 815.8,320.9 816.0,323.0 816.3,325.2 817.3,326.8 818.3,327.5 819.0,325.9 819.8,323.9 820.5,323.3 821.3,321.1 822.8,320.7 824.3,320.2 825.7,319.8 827.2,320.6 828.7,319.4 829.7,319.4 830.7,316.7 831.7,316.6 832.6,314.1 833.6,312.6 834.6,312.4 835.9,310.8 837.3,310.7 838.6,309.0 839.9,307.9 841.3,308.3 842.6,307.3 843.5,308.8 844.5,309.8 845.5,309.9 846.4,312.0 847.9,311.6 849.4,310.6 851.0,310.8 852.5,309.1 854.0,309.6 855.0,308.0 855.9,305.6 856.9,304.3 857.9,304.1 858.8,303.1 859.8,300.6 860.2,299.5 860.6,298.7 861.1,296.3 861.5,296.0 861.9,293.9 862.3,291.7 862.8,290.7 863.2,289.6 863.6,287.9 863.7,286.7 863.8,284.3 864.0,283.8 864.1,281.5 864.2,280.4 864.3,278.8 864.4,276.9 864.5,275.3 864.7,274.4 864.8,273.1 864.9,271.3 865.0,269.4 865.1,267.4 865.3,265.4 865.4,265.3 865.5,263.3 865.6,261.9 865.8,259.6 865.9,258.4 866.0,257.4 866.1,255.6 866.2,253.7 866.4,251.6 866.5,250.2 866.6,249.4 866.8,247.0 866.9,245.9 867.0,244.2 867.5,242.9 867.9,241.1 868.4,238.6 868.8,236.4 869.3,235.1 871.2,235.8 873.1,236.5 874.5,237.9 876.0,239.0 876.6,236.1 877.2,235.9 877.7,234.3 878.3,232.8 878.9,230.8 880.2,229.4 881.4,229.4 882.7,228.4 884.3,228.0 885.9,228.2 887.5,227.2 889.0,226.6 890.6,227.2 892.2,227.4 893.8,226.2 895.3,226.9 896.9,227.1 898.4,225.8 900.0,226.2 901.5,226.1 903.1,225.6 904.6,225.1 906.2,225.0 907.7,225.6 909.2,225.5 910.8,224.9 912.3,224.1 913.8,225.1 915.4,224.9 916.9,223.9 918.5,224.3 920.0,224.6 921.5,225.0 923.0,224.7 924.4,225.0 925.9,225.5 927.4,225.2 928.9,225.5 930.4,225.8 931.9,227.0 933.3,226.8 934.8,227.5 936.3,227.5 937.9,228.1 939.5,227.9 941.1,228.1 942.6,230.0 944.2,229.4 945.8,229.4 947.4,230.6 949.0,231.3 950.5,230.2 952.1,230.8 953.6,230.3 955.2,230.5 956.7,229.6 958.3,229.5 959.8,230.9 961.4,230.7 962.9,230.0 964.5,230.0 966.0,229.4 967.6,229.7 969.1,228.6 970.7,228.9 972.3,228.1 973.9,227.6 975.5,227.3 977.0,225.6 978.6,224.8 979.4,226.5 980.2,227.9 981.0,229.2 981.8,230.6 982.6,232.9 983.4,234.9 984.2,235.7 985.0,237.9 986.4,237.2 987.8,235.1 989.2,235.3 990.7,234.2 992.1,233.1 993.5,233.7 995.0,232.3 996.5,232.5 998.0,232.3 999.5,232.5 1001.0,231.7 1002.5,230.9 1004.0,230.7 1005.2,229.4 1006.4,229.7 1007.6,228.9 1008.9,226.8 1010.1,225.6 1011.3,225.0 1012.5,224.3 1014.1,225.1 1015.7,225.1 1017.3,225.0 1018.9,223.8 1020.5,225.0 1022.1,224.8 1023.7,224.7 1025.3,225.3 1026.5,225.1 1027.8,226.5 1029.0,228.7 1030.2,230.3 1031.0,231.4 1031.9,232.2 1032.7,234.2 1033.5,235.9 1034.4,236.4 1035.2,238.2 1035.7,239.6 1036.2,240.9 1036.7,243.0 1037.2,244.0 1037.8,245.7 1038.3,247.0 1038.8,249.4 1039.3,249.9 1039.8,252.5 1040.3,253.2 1041.3,254.2 1042.3,256.9 1043.4,257.0 1044.4,259.4 1045.4,260.6 1046.8,261.3 1048.2,260.8 1049.6,262.0 1051.0,262.2 1052.5,264.2 1053.9,264.8 1055.3,265.2 1056.7,265.6 1058.1,266.1 1059.7,266.8 1061.3,266.2 1062.9,266.4 1064.4,265.5 1066.0,265.5 1067.6,265.2 1069.2,266.2 1070.8,265.8 1072.4,265.1 1074.0,266.2 1075.6,265.1 1077.2,265.3 1078.7,264.8 1080.3,264.9 1081.9,265.7 1083.5,264.8 1085.0,264.6 1086.6,265.2 1088.1,265.0 1089.6,266.0 1091.1,264.8 1092.7,266.3 1094.2,264.9 1095.7,266.3 1097.3,266.0 1098.8,265.4 1100.3,265.9 1101.8,265.6 1103.4,265.6 1104.9,265.6 1106.4,266.0 1107.9,267.0 1109.5,267.1 1111.0,267.1 1112.5,265.8 1114.1,266.2 1115.6,267.2 1117.1,266.0 1118.6,267.1 1120.2,266.5 1121.7,267.7 1123.2,266.2 1124.8,267.4 1126.3,266.7 1127.8,266.4 1129.4,266.2 1130.9,267.6 1132.4,267.1 1133.9,266.6 1135.5,267.0 1137.0,267.8 1138.5,266.8 1140.1,267.3 1141.6,266.7 1143.1,266.8 1144.7,267.7 1146.2,267.7 1147.7,266.9 1149.3,266.7 1150.8,266.8 1152.3,267.6 1153.9,267.5 1155.4,267.1 1156.9,267.1 1158.4,267.7 1160.0,267.9 1161.5,268.1 1163.0,267.8 1164.6,267.2 1166.1,267.0 1167.1,266.7 1168.1,264.8 1169.2,263.9 1170.2,261.5 1171.2,261.3 1172.0,262.0 1172.9,264.2 1173.8,265.7 1174.6,266.6 1175.5,267.3 1176.3,270.2 1177.8,269.4 1179.3,270.1 1180.8,269.1 1182.4,268.9 1183.9,269.9 1185.4,269.2 1186.9,268.8 1188.4,269.2 1189.9,269.5 1191.5,268.5 1193.0,269.4 1194.5,269.2 1196.0,269.3 1197.5,268.7 1199.0,269.6 1200.6,269.7 1202.1,269.8 1203.6,268.9 1205.1,269.5 1206.6,269.0 1208.1,269.6 1209.7,268.4 1211.2,269.7 1212.7,269.8 1214.2,269.1 1215.7,269.1 1217.2,269.1 1218.8,269.1 1220.3,268.3 1221.8,269.8 1223.3,268.6 1224.8,268.5 1226.3,268.4 1227.8,268.6 1229.3,269.5 1230.8,268.2 1232.3,268.4 1233.8,269.3 1235.3,268.5 1236.9,268.2 1238.4,269.2 1239.9,269.1 1241.4,269.0 1242.9,269.3 1244.4,268.4 1245.9,269.6 1247.4,269.3 1248.9,268.3 1250.4,268.4 1251.9,269.0 1253.4,269.0 1254.9,268.6 1256.4,268.4 1257.9,268.8 1259.4,268.4 1260.9,269.1 1262.4,269.6 1264.0,268.4 1265.5,269.1 1267.0,269.4 1268.5,268.5 1270.0,269.5 1271.5,269.7 1273.0,268.8 1274.5,268.9 1276.0,269.0" fill="none" stroke="#ec1a1a" stroke-width="2.6" stroke-linejoin="round" />
<polyline points="754.5,218.3 754.5,219.3 754.5,220.6 754.5,223.0 754.5,224.3 754.6,225.1 754.6,226.4 754.6,228.1 754.6,229.8 754.6,232.1 754.6,233.4 754.6,235.0 754.6,236.4 754.6,237.9 754.6,238.2 754.7,240.4 754.7,242.6 754.7,244.1 754.7,244.5 754.7,246.3 754.7,248.2 754.7,249.2 754.7,251.0 754.7,251.8 754.8,253.9 754.8,255.5 754.8,256.2 754.8,257.9 754.8,260.8 754.8,262.0 754.9,263.8 754.9,264.8 754.9,266.7 755.0,268.3 755.0,269.9 755.0,270.0 755.1,272.6 755.1,273.5 755.1,275.7 755.2,276.6 755.2,278.6 755.2,280.7 755.3,281.8 755.3,282.7 755.3,284.7 755.4,286.1 755.4,288.5 755.4,289.0 755.5,290.5 755.5,292.6 755.5,293.3 755.6,295.6 755.6,297.7 755.7,298.6 755.7,299.7 755.8,301.5 755.9,303.2 755.9,304.1 756.0,305.6 756.1,307.1 756.1,308.9 756.2,310.6 756.2,312.0 756.3,313.4 756.4,314.7 756.4,317.0 756.5,319.0 756.6,320.1 756.6,321.6 756.7,323.3 756.8,324.1 756.8,326.4 756.9,327.5 757.8,328.6 758.2,327.2 758.6,325.5 759.0,323.8 759.4,322.2 759.8,320.6 760.2,319.6 760.6,317.9 761.0,316.8 761.4,314.4 761.8,313.4 762.2,312.8 763.2,310.6 764.2,310.0 765.2,308.8 766.2,307.3 767.1,307.3 768.1,305.0 769.1,304.6 770.1,302.5 771.1,301.2 772.1,301.2 773.0,299.2 774.0,297.3 774.9,296.6 775.9,295.4 776.8,294.5 777.8,292.2 778.7,291.1 779.6,291.0 780.6,289.4 781.9,287.4 783.1,286.6 784.4,285.6 785.7,285.1 787.0,283.9 788.2,283.2 789.5,282.1 790.7,280.5 791.8,279.7 793.0,278.5 794.1,277.4 795.3,275.8 796.4,275.1 797.6,273.8 798.7,273.0 799.9,270.6 801.4,272.7 802.9,272.2 804.3,274.3 805.8,274.9 807.3,275.7 808.6,277.3 809.9,277.5 811.3,278.1 812.6,279.6 813.9,280.6 815.1,279.0 816.3,277.4 817.4,276.4 818.6,275.2 819.8,274.5 821.3,273.4 822.8,273.2 824.3,273.1 825.8,272.4 826.7,270.8 827.6,270.1 828.4,268.7 829.3,266.7 830.2,265.1 830.6,263.2 831.0,261.9 831.3,260.2 831.7,259.4 832.1,258.0 832.5,255.7 832.8,255.5 833.2,253.1 833.6,252.5 833.9,251.0 834.3,249.7 834.7,247.0 835.0,245.8 835.4,245.1 835.8,242.2 836.1,240.8 836.5,240.1 836.8,238.5 837.0,237.7 837.2,235.9 837.5,234.1 837.8,233.3 838.0,231.0 838.2,229.5 838.5,228.3 838.8,226.2 839.1,224.6 839.4,223.4 839.7,221.4 840.0,220.7 840.5,218.6 841.0,216.7 841.5,214.4 843.2,213.9 845.0,213.1 846.5,213.4 848.0,213.4 849.5,213.9 851.1,214.0 852.7,213.2 854.2,213.0 855.8,213.3 857.4,213.8 859.0,212.7 860.5,212.9 862.1,213.3 863.7,212.2 865.3,212.4 866.8,213.4 868.4,213.1 870.0,212.5 871.6,211.9 873.1,213.1 874.7,212.8 876.2,213.0 877.8,213.3 879.4,213.1 880.9,212.4 882.5,212.0 884.1,212.2 885.6,212.5 887.2,212.5 888.8,212.0 890.3,212.0 891.9,212.7 893.4,212.7 895.0,212.3 896.4,214.2 897.7,214.5 899.0,214.4 900.4,215.9 901.9,215.3 903.5,213.4 905.0,212.8 906.5,211.7 908.0,212.1 909.5,212.9 911.0,212.4 912.5,212.5 914.0,211.7 915.5,212.1 917.0,212.2 918.5,211.7 920.0,212.2 921.5,212.1 923.1,212.8 924.6,212.2 926.2,211.9 927.7,211.5 929.2,211.5 930.8,212.5 932.3,211.5 933.8,211.5 935.4,211.6 936.9,212.2 938.5,212.7 940.0,212.3 941.5,212.7 943.1,211.5 944.6,211.4 946.2,212.6 947.7,211.9 949.2,212.6 950.8,212.0 952.3,211.7 953.8,211.9 955.4,211.6 956.9,212.9 958.5,212.4 960.0,212.1 961.5,212.2 963.1,212.1 964.6,211.6 966.2,212.9 967.7,212.4 969.2,213.0 970.8,212.2 972.3,212.5 973.8,211.9 975.4,211.6 976.9,213.0 978.5,212.9 980.0,212.0 981.5,212.9 983.1,212.8 984.6,212.0 986.2,212.5 987.7,213.0 989.2,212.3 990.8,213.0 992.3,211.9 993.8,212.1 995.4,212.6 996.9,211.9 998.5,212.0 1000.0,212.9 1001.5,212.3 1003.1,212.8 1004.6,211.9 1006.2,211.8 1007.7,212.1 1009.2,211.8 1010.8,213.1 1012.3,212.0 1013.8,212.5 1015.4,211.8 1016.9,212.4 1018.5,212.2 1020.0,212.2 1021.5,211.7 1023.1,211.8 1024.6,212.9 1026.2,212.2 1027.7,212.0 1029.2,212.0 1030.8,212.1 1032.3,212.0 1033.8,211.7 1035.4,212.7 1036.9,212.2 1038.5,211.9 1040.0,212.8 1041.5,211.8 1043.0,212.1 1044.5,213.0 1046.1,211.9 1047.6,212.4 1049.1,213.0 1050.6,213.0 1052.1,212.0 1053.6,212.3 1055.2,212.9 1056.7,212.3 1058.2,213.2 1059.7,212.0 1061.2,213.2 1062.7,212.5 1064.2,212.1 1065.8,212.4 1067.3,211.9 1068.8,212.8 1070.3,212.1 1071.8,213.1 1073.3,212.6 1074.8,212.3 1076.4,212.1 1077.9,212.7 1079.4,212.0 1080.9,213.1 1082.4,211.9 1083.9,212.5 1085.5,212.6 1087.0,212.1 1088.5,212.9 1090.0,212.3 1091.5,212.8 1093.0,212.6 1094.5,212.2 1096.1,212.4 1097.6,211.9 1099.1,212.1 1100.6,213.2 1102.1,212.3 1103.6,212.9 1105.2,212.0 1106.7,212.8 1108.2,212.5 1109.7,212.7 1111.2,212.4 1112.7,212.0 1114.2,212.4 1115.8,212.3 1117.3,212.2 1118.8,213.1 1120.3,212.5 1121.8,212.7 1123.3,213.5 1124.8,213.3 1126.4,213.5 1127.9,213.5 1129.4,212.3 1130.9,212.6 1132.4,212.2 1133.9,213.2 1135.5,213.2 1137.0,212.7 1138.5,212.8 1140.0,213.3 1141.5,213.3 1143.0,212.6 1144.5,213.6 1146.0,212.8 1147.5,213.2 1149.0,212.5 1150.5,212.4 1152.0,213.7 1153.5,213.4 1155.0,213.3 1156.5,212.3 1158.0,212.3 1159.5,212.5 1161.0,212.5 1162.5,212.7 1164.0,212.8 1165.5,212.3 1167.0,212.7 1168.5,213.2 1170.0,212.5 1171.5,213.5 1173.0,213.1 1174.5,213.3 1176.0,212.6 1177.5,212.9 1179.0,213.3 1180.5,212.8 1182.0,212.2 1183.5,213.5 1185.0,213.4 1186.5,212.7 1188.0,212.3 1189.5,213.6 1191.0,213.2 1192.5,212.3 1194.0,212.6 1195.5,212.4 1197.0,213.5 1198.5,212.5 1200.0,213.7 1201.5,213.4 1203.0,212.4 1204.5,213.4 1206.0,213.0 1207.5,213.6 1209.0,213.7 1210.5,212.9 1212.0,212.6 1213.5,214.0 1215.0,213.2 1216.5,214.1 1218.0,213.7 1219.5,213.8 1221.0,214.0 1222.5,213.7 1224.0,213.5 1225.5,212.9 1227.0,213.9 1228.5,213.5 1230.0,213.7 1231.5,214.4 1233.0,213.1 1234.5,214.2 1236.0,213.1 1237.5,214.2 1239.0,214.4 1240.5,213.5 1242.0,214.0 1243.5,214.7 1245.0,214.2 1245.9,215.6 1246.8,216.6 1247.7,217.8 1248.5,219.8 1249.4,221.4 1250.3,222.5 1251.1,221.2 1251.9,219.4 1252.7,218.8 1253.4,217.3 1254.2,215.1 1255.0,213.6 1256.5,214.0 1258.0,213.8 1259.5,214.5 1261.0,213.5 1262.5,213.3 1264.0,214.2 1265.5,212.9 1267.0,213.5 1268.5,213.1 1270.0,213.8 1271.5,213.3 1273.0,213.6 1274.5,212.5 1276.0,213.0" fill="none" stroke="#2323d8" stroke-width="3" stroke-linejoin="round" stroke-dasharray="7.5 2.5 2.5 2.5" />
<polyline points="753.5,342.3 753.6,340.7 753.6,338.9 753.7,337.9 753.8,336.5 753.8,333.9 753.9,332.7 753.9,331.3 754.0,329.5 754.1,327.7 754.2,326.5 754.3,324.7 754.4,324.0 754.5,322.0 754.5,319.8 754.6,318.6 754.7,317.2 754.8,315.5 754.9,313.6 755.0,311.8 755.3,310.1 755.5,310.1 755.8,308.1 756.1,305.5 756.3,304.9 756.6,303.7 756.9,301.5 757.1,299.2 757.4,298.2 758.2,296.8 759.0,295.1 759.8,294.4 760.6,292.3 761.4,292.5 762.6,290.6 763.8,289.2 764.9,288.3 766.1,286.4 767.1,284.4 768.0,283.0 769.0,281.4 769.9,279.8 770.9,279.5 771.5,278.0 772.2,275.6 772.8,273.8 773.5,272.9 774.1,271.7 774.6,270.2 775.1,267.4 775.5,266.8 776.0,265.3 776.5,263.6 776.8,261.2 777.1,259.3 777.4,258.6 777.6,256.1 777.9,254.5 778.2,253.1 778.4,251.2 778.7,250.4 778.9,247.9 779.1,246.0 779.4,245.3 779.6,243.9 779.8,242.6 780.1,240.9 780.3,239.6 780.6,238.1 780.9,235.8 781.2,234.3 781.6,232.2 781.9,230.8 782.2,229.7 782.5,227.3 783.0,226.9 783.5,224.6 784.0,223.7 784.5,223.1 785.0,220.3 785.5,218.8 786.7,217.9 787.8,216.0 789.0,215.4 790.3,213.5 791.7,214.1 793.0,213.4 794.8,213.0 796.6,212.1 798.4,211.6 799.9,212.1 801.4,211.9 803.0,211.7 804.5,211.6 806.0,211.7 807.5,212.1 809.0,212.3 810.5,212.5 812.1,211.3 813.6,211.5 815.1,211.7 816.6,211.9 818.1,211.5 819.6,211.2 821.2,211.1 822.7,211.4 824.2,211.6 825.7,212.4 827.2,212.3 828.8,212.2 830.3,212.4 831.8,212.4 833.3,211.8 834.8,212.1 836.3,210.9 837.9,211.9 839.4,211.8 840.9,211.2 842.4,211.7 843.9,212.3 845.4,211.5 847.0,211.8 848.5,211.2 850.0,211.2 851.5,212.1 853.0,210.7 854.5,211.0 856.1,211.7 857.6,211.3 859.1,210.8 860.6,211.7 862.1,211.2 863.6,211.5 865.1,211.2 866.6,211.4 868.2,211.4 869.7,211.2 871.2,210.7 872.7,210.8 874.2,211.9 875.7,211.3 877.2,210.6 878.8,211.8 880.3,210.8 881.8,210.6 883.3,211.3 884.8,210.8 886.3,211.2 887.8,211.2 889.4,210.7 890.9,211.3 892.4,210.5 893.9,211.1 895.4,211.2 896.9,210.4 898.4,210.9 899.9,210.4 901.5,210.9 903.0,211.6 904.5,211.1 906.0,211.3 907.5,212.9 909.0,213.4 909.8,216.2 910.6,217.2 911.4,217.6 912.2,220.1 913.0,220.8 913.8,219.1 914.6,218.9 915.4,216.9 916.2,215.8 917.0,213.4 917.8,216.0 918.6,216.5 919.4,218.4 920.2,220.2 921.0,221.2 921.8,220.6 922.6,218.3 923.4,216.9 924.2,215.9 925.0,213.9 926.3,213.8 927.7,212.5 929.0,212.1 930.6,211.8 932.1,212.6 933.7,212.7 935.3,211.8 936.9,213.0 938.4,212.5 940.0,213.4 941.3,214.3 942.7,215.5 944.0,215.4 944.2,217.3 944.5,219.4 944.8,221.2 945.0,222.4 945.2,222.8 945.5,225.2 945.8,225.9 946.0,228.1 946.5,227.0 947.0,224.4 947.5,224.2 948.0,222.3 948.2,223.2 948.4,224.6 948.7,226.6 948.9,228.8 949.1,229.9 949.3,230.7 949.6,232.1 949.8,233.8 950.0,236.5 952.0,237.5 952.2,236.6 952.5,234.7 952.8,233.8 953.0,231.8 953.2,229.9 953.5,229.6 953.8,227.6 954.0,226.3 954.5,228.0 955.0,229.7 955.5,229.7 956.0,231.7 958.6,230.4 959.0,229.3 959.3,228.1 959.6,226.2 960.0,223.3 960.2,225.0 960.5,227.5 960.8,228.8 961.0,229.8 961.2,231.5 961.5,232.5 961.8,235.1 962.0,235.8 962.4,235.0 962.8,233.0 963.2,230.5 963.6,229.3 964.0,227.5 964.4,230.1 964.8,231.1 965.1,231.8 965.5,233.5 965.9,235.3 966.2,236.9 966.6,238.6 967.0,239.8 967.3,238.1 967.7,235.9 968.0,235.1 968.3,233.1 968.7,230.9 969.0,229.9 969.5,232.3 970.0,232.3 970.5,233.9 971.0,236.3 971.3,234.0 971.7,232.3 972.0,231.0 972.3,229.0 972.7,227.8 973.0,226.0 975.6,225.7 975.9,224.2 976.2,221.0 976.5,220.2 976.8,218.9 977.1,217.5 977.4,215.7 977.7,213.8 978.0,212.2 979.6,211.8 981.2,211.7 982.8,212.5 984.4,212.6 986.0,212.7 986.6,213.8 987.2,214.6 987.8,216.8 988.4,218.3 989.0,219.4 989.6,221.1 990.2,222.1 990.8,223.9 991.2,222.2 991.6,220.1 992.0,219.1 992.4,217.6 992.8,217.2 993.2,214.9 993.6,213.3 994.0,211.6 995.5,211.6 997.1,211.8 998.6,211.4 1000.2,211.2 1001.8,212.6 1003.3,211.9 1004.9,211.9 1006.4,212.1 1008.0,211.7 1009.5,211.5 1011.0,211.3 1012.6,211.7 1014.1,211.7 1015.7,212.4 1017.2,212.1 1018.8,212.7 1020.4,211.7 1021.9,212.7 1023.5,212.1 1025.0,211.3 1025.3,213.0 1025.6,215.2 1025.9,217.3 1026.2,217.9 1026.5,220.0 1026.9,221.0 1027.2,223.2 1027.5,223.5 1027.8,225.7 1028.1,227.8 1028.5,225.3 1028.9,223.8 1029.3,221.9 1029.7,220.6 1030.0,219.2 1030.4,218.4 1030.8,216.1 1031.2,214.9 1031.6,213.0 1032.0,212.2 1033.6,212.6 1035.1,212.2 1036.7,211.5 1038.2,212.4 1039.8,212.7 1041.3,212.2 1042.9,211.3 1044.4,212.5 1046.0,212.6 1047.6,211.7 1049.1,211.4 1050.7,211.5 1052.2,212.1 1053.8,212.6 1055.3,212.2 1056.9,212.7 1058.4,211.5 1060.0,211.7 1061.5,212.4 1063.0,212.2 1064.5,211.8 1066.0,212.3 1067.5,211.7 1069.0,211.2 1070.5,211.8 1072.0,211.2 1073.5,212.1 1075.0,211.7 1076.5,211.9 1078.0,212.1 1079.5,211.5 1081.0,211.8 1082.5,211.1 1084.0,212.5 1085.5,212.0 1087.0,212.6 1088.5,211.1 1090.0,212.0 1091.5,212.2 1093.0,211.5 1094.5,211.2 1096.0,211.2 1097.5,211.2 1099.0,212.2 1100.5,211.1 1102.0,212.3 1103.5,211.6 1105.0,211.8 1106.5,211.9 1108.0,211.8 1109.5,212.0 1111.0,211.9 1112.5,211.4 1114.0,212.1 1115.5,211.3 1117.0,212.0 1118.5,212.1 1120.0,212.1 1121.5,211.4 1123.0,212.1 1124.5,212.4 1126.0,211.6 1127.5,211.3 1129.0,211.7 1130.5,212.3 1132.0,211.0 1133.5,210.8 1135.0,211.5 1136.5,211.8 1138.0,212.0 1139.5,211.3 1141.0,212.3 1142.5,211.1 1144.0,211.9 1145.5,210.9 1147.0,210.8 1148.5,210.9 1150.0,210.8 1151.5,211.5 1153.0,211.6 1154.5,211.0 1156.1,212.2 1157.6,211.3 1159.1,210.9 1160.6,211.0 1162.1,211.9 1163.6,212.2 1165.1,211.0 1166.6,210.7 1168.2,211.9 1169.7,211.1 1171.2,212.3 1172.7,211.5 1174.2,211.7 1175.7,211.3 1177.2,212.0 1178.8,211.4 1180.3,211.2 1181.8,212.1 1183.3,210.9 1184.8,211.9 1186.3,210.8 1187.8,211.7 1189.3,211.3 1190.9,212.1 1192.4,210.8 1193.9,211.6 1195.4,211.4 1196.9,212.2 1198.4,212.2 1199.9,211.7 1201.4,211.1 1203.0,211.1 1204.5,211.1 1206.0,211.4 1207.5,211.1 1209.0,211.0 1210.5,211.9 1212.0,211.7 1213.6,211.2 1215.1,212.3 1216.6,211.0 1218.1,211.6 1219.6,211.0 1221.1,212.1 1222.6,212.1 1224.1,211.1 1225.7,211.9 1227.2,212.0 1228.7,211.2 1230.2,211.2 1231.7,211.5 1233.2,212.1 1234.7,211.0 1236.2,211.8 1237.8,211.7 1239.3,211.4 1240.8,211.6 1242.3,212.1 1243.8,211.0 1245.3,212.1 1246.8,211.3 1248.4,211.9 1249.9,212.1 1251.4,211.0 1252.9,212.1 1254.4,212.3 1255.9,211.2 1257.4,210.7 1258.9,210.9 1260.5,212.3 1262.0,210.7 1263.5,212.2 1265.0,210.9 1266.8,211.3 1268.5,209.6 1270.2,209.1 1272.0,209.3 1274.0,208.3 1276.0,209.0" fill="none" stroke="#22ea22" stroke-width="3.2" stroke-linejoin="round" />
<polyline points="926.5,219.2 928.0,220.3 929.5,220.1 931.0,220.5 932.5,220.7 934.0,219.1 935.5,219.6 937.0,220.6 938.5,220.6 940.0,219.5 941.5,220.3 943.1,219.8 944.6,220.2 946.2,219.6 947.7,219.4 949.2,221.2 950.8,220.0 952.3,221.0 953.8,219.6 955.4,220.3 956.9,219.6 958.5,220.2 960.0,219.7 961.5,220.6 963.1,219.6 964.6,220.7 966.2,220.3 967.7,219.5 969.2,220.0 970.8,220.2 972.3,221.0 973.8,219.9 975.4,219.7 976.9,221.0 978.5,220.9 980.0,220.6 981.5,219.7 983.1,219.5 984.6,219.7 986.2,219.3 987.7,219.3 989.2,220.1 990.8,219.9 992.3,220.2 993.8,219.8 995.4,219.2 996.9,220.4 998.5,220.3 1000.0,220.1 1001.5,220.1 1003.1,220.3 1004.6,220.8 1006.2,220.6 1007.7,220.3 1009.2,219.7 1010.8,219.5 1012.3,219.7 1013.8,220.7 1015.4,219.6 1016.9,219.6 1018.5,219.6 1020.0,219.1 1021.5,220.6 1023.1,218.8 1024.6,219.9 1026.2,220.4 1027.7,219.2 1029.2,219.8 1030.8,219.4 1032.3,219.1 1033.8,219.0 1035.4,218.9 1036.9,220.2 1038.5,220.0 1040.0,220.2 1041.5,218.7 1043.0,219.8 1044.5,219.1 1046.0,219.7 1047.5,219.5 1049.0,219.1 1050.5,220.3 1052.0,218.5 1053.5,219.8 1055.0,220.0 1056.5,219.4 1058.0,219.5 1059.5,220.2 1061.0,218.8 1062.5,219.5 1064.0,219.7 1065.5,219.1 1067.0,219.7 1068.5,219.1 1070.0,219.3 1071.5,219.4 1073.0,219.5 1074.5,218.9 1076.0,219.4 1077.5,219.3 1079.0,218.7 1080.5,219.4 1082.0,218.7 1083.5,219.9 1085.0,219.1 1086.5,219.5 1088.0,219.1 1089.5,219.0 1091.0,218.6 1092.5,218.4 1094.0,219.8 1095.5,219.1 1097.0,219.1 1098.5,219.1 1100.0,219.6 1101.5,218.5 1103.0,218.4 1104.5,219.6 1106.1,218.9 1107.6,219.2 1109.1,219.6 1110.6,219.7 1112.1,219.6 1113.6,218.2 1115.2,218.8 1116.7,219.6 1118.2,219.6 1119.7,218.3 1121.2,218.4 1122.7,218.5 1124.2,218.3 1125.8,218.7 1127.3,219.5 1128.8,219.0 1130.3,218.9 1131.8,218.2 1133.3,218.8 1134.8,219.9 1136.4,219.3 1137.9,218.9 1139.4,218.9 1140.9,219.5 1142.4,219.4 1143.9,218.3 1145.5,219.3 1147.0,218.7 1148.5,219.0 1150.0,218.5 1151.5,218.7 1153.0,218.7 1154.5,218.7 1156.1,218.1 1157.6,218.4 1159.1,219.1 1160.6,218.1 1162.1,218.4 1163.6,219.3 1165.2,218.5 1166.7,218.6 1168.2,218.5 1169.7,219.5 1171.2,218.2 1172.7,219.2 1174.2,219.6 1175.8,218.4 1177.3,218.8 1178.8,219.4 1180.3,219.1 1181.8,218.7 1183.3,218.1 1184.8,218.8 1186.4,218.7 1187.9,219.3 1189.4,218.5 1190.9,218.7 1192.4,219.2 1193.9,219.5 1195.5,218.6 1197.0,218.7 1198.5,219.0 1200.0,219.7 1201.5,218.4 1203.0,219.8 1204.6,219.3 1206.1,218.7 1207.6,219.3 1209.1,218.7 1210.6,218.2 1212.2,219.5 1213.7,218.8 1215.2,219.1 1216.7,219.0 1218.2,219.8 1219.8,219.5 1221.3,218.2 1222.8,219.3 1224.3,219.1 1225.8,219.1 1227.4,219.8 1228.9,219.0 1230.4,219.1 1231.9,219.9 1233.4,219.1 1235.0,219.2 1236.5,219.3 1238.0,219.8 1239.5,219.6 1241.0,219.7 1242.6,219.1 1244.1,218.5 1245.6,219.6 1247.1,219.4 1248.6,219.8 1250.2,219.8 1251.7,218.7 1253.2,218.9 1254.7,218.6 1256.2,220.0 1257.8,218.7 1259.3,218.7 1260.8,219.9 1262.3,219.6 1263.8,218.7 1265.4,219.8 1266.9,219.9 1268.4,219.5 1269.9,218.7 1271.4,219.9 1273.0,219.4 1274.5,219.7 1276.0,219.6" fill="none" stroke="#111" stroke-width="2.6" stroke-linejoin="round" />
<line x1="76.9" y1="1.3" x2="610.1" y2="1.3" stroke="#777" stroke-width="3.4" />
<line x1="81.4" y1="0" x2="81.4" y2="419" stroke="#666" stroke-width="2.4" />
<line x1="609.6" y1="0" x2="609.6" y2="413" stroke="#666" stroke-width="2.4" />
<line x1="80.4" y1="412" x2="610.6" y2="412" stroke="#666" stroke-width="2.3" />
<text transform="translate(79.5,442.5) scale(1,1.08)" font-size="21" font-weight="normal" fill="#404040" text-anchor="middle" stroke="#404040" stroke-width="0.4" >0</text>
<line x1="154.05" y1="412" x2="154.05" y2="419" stroke="#666" stroke-width="2" />
<text transform="translate(152.55,442.5) scale(1,1.08)" font-size="21" font-weight="normal" fill="#404040" text-anchor="middle" stroke="#404040" stroke-width="0.4" >5</text>
<line x1="227.1" y1="412" x2="227.1" y2="419" stroke="#666" stroke-width="2" />
<text transform="translate(225.6,442.5) scale(1,1.08)" font-size="21" font-weight="normal" fill="#404040" text-anchor="middle" stroke="#404040" stroke-width="0.4" >10</text>
<line x1="300.15" y1="412" x2="300.15" y2="419" stroke="#666" stroke-width="2" />
<text transform="translate(298.65,442.5) scale(1,1.08)" font-size="21" font-weight="normal" fill="#404040" text-anchor="middle" stroke="#404040" stroke-width="0.4" >15</text>
<line x1="373.2" y1="412" x2="373.2" y2="419" stroke="#666" stroke-width="2" />
<text transform="translate(371.7,442.5) scale(1,1.08)" font-size="21" font-weight="normal" fill="#404040" text-anchor="middle" stroke="#404040" stroke-width="0.4" >20</text>
<line x1="446.25" y1="412" x2="446.25" y2="419" stroke="#666" stroke-width="2" />
<text transform="translate(444.75,442.5) scale(1,1.08)" font-size="21" font-weight="normal" fill="#404040" text-anchor="middle" stroke="#404040" stroke-width="0.4" >25</text>
<line x1="519.3" y1="412" x2="519.3" y2="419" stroke="#666" stroke-width="2" />
<text transform="translate(517.8,442.5) scale(1,1.08)" font-size="21" font-weight="normal" fill="#404040" text-anchor="middle" stroke="#404040" stroke-width="0.4" >30</text>
<line x1="592.3499999999999" y1="412" x2="592.3499999999999" y2="419" stroke="#666" stroke-width="2" />
<text transform="translate(590.8499999999999,442.5) scale(1,1.08)" font-size="21" font-weight="normal" fill="#404040" text-anchor="middle" stroke="#404040" stroke-width="0.4" >35</text>
<line x1="117.525" y1="412" x2="117.525" y2="416" stroke="#666" stroke-width="2" />
<line x1="190.575" y1="412" x2="190.575" y2="416" stroke="#666" stroke-width="2" />
<line x1="263.625" y1="412" x2="263.625" y2="416" stroke="#666" stroke-width="2" />
<line x1="336.67499999999995" y1="412" x2="336.67499999999995" y2="416" stroke="#666" stroke-width="2" />
<line x1="409.72499999999997" y1="412" x2="409.72499999999997" y2="416" stroke="#666" stroke-width="2" />
<line x1="482.775" y1="412" x2="482.775" y2="416" stroke="#666" stroke-width="2" />
<line x1="555.825" y1="412" x2="555.825" y2="416" stroke="#666" stroke-width="2" />
<line x1="73.4" y1="68.4" x2="81.4" y2="68.4" stroke="#666" stroke-width="2" />
<text transform="translate(66.9,74.5) scale(1,1.08)" font-size="21" font-weight="normal" fill="#404040" text-anchor="end" stroke="#404040" stroke-width="0.4" >0.0</text>
<line x1="73.4" y1="201.0" x2="81.4" y2="201.0" stroke="#666" stroke-width="2" />
<text transform="translate(66.9,207.1) scale(1,1.08)" font-size="21" font-weight="normal" fill="#404040" text-anchor="end" stroke="#404040" stroke-width="0.4" >-0.6</text>
<line x1="73.4" y1="333.6" x2="81.4" y2="333.6" stroke="#666" stroke-width="2" />
<text transform="translate(66.9,339.70000000000005) scale(1,1.08)" font-size="21" font-weight="normal" fill="#404040" text-anchor="end" stroke="#404040" stroke-width="0.4" >-1.2</text>
<line x1="76.4" y1="2.1000000000000085" x2="81.4" y2="2.1000000000000085" stroke="#666" stroke-width="2" />
<line x1="76.4" y1="134.7" x2="81.4" y2="134.7" stroke="#666" stroke-width="2" />
<line x1="76.4" y1="267.3" x2="81.4" y2="267.3" stroke="#666" stroke-width="2" />
<line x1="76.4" y1="399.9" x2="81.4" y2="399.9" stroke="#666" stroke-width="2" />
<line x1="748.8" y1="1.3" x2="1277.7" y2="1.3" stroke="#777" stroke-width="3.4" />
<line x1="753.3" y1="0" x2="753.3" y2="419" stroke="#666" stroke-width="2.4" />
<line x1="1277.2" y1="0" x2="1277.2" y2="413" stroke="#666" stroke-width="2.4" />
<line x1="752.3" y1="412" x2="1278.2" y2="412" stroke="#666" stroke-width="2.3" />
<text transform="translate(751.8,440.1) scale(1,1.08)" font-size="21" font-weight="normal" fill="#404040" text-anchor="middle" stroke="#404040" stroke-width="0.4" >0</text>
<line x1="825.9499999999999" y1="412" x2="825.9499999999999" y2="419" stroke="#666" stroke-width="2" />
<text transform="translate(824.4499999999999,440.1) scale(1,1.08)" font-size="21" font-weight="normal" fill="#404040" text-anchor="middle" stroke="#404040" stroke-width="0.4" >5</text>
<line x1="898.5999999999999" y1="412" x2="898.5999999999999" y2="419" stroke="#666" stroke-width="2" />
<text transform="translate(897.0999999999999,440.1) scale(1,1.08)" font-size="21" font-weight="normal" fill="#404040" text-anchor="middle" stroke="#404040" stroke-width="0.4" >10</text>
<line x1="971.25" y1="412" x2="971.25" y2="419" stroke="#666" stroke-width="2" />
<text transform="translate(969.75,440.1) scale(1,1.08)" font-size="21" font-weight="normal" fill="#404040" text-anchor="middle" stroke="#404040" stroke-width="0.4" >15</text>
<line x1="1043.8999999999999" y1="412" x2="1043.8999999999999" y2="419" stroke="#666" stroke-width="2" />
<text transform="translate(1042.3999999999999,440.1) scale(1,1.08)" font-size="21" font-weight="normal" fill="#404040" text-anchor="middle" stroke="#404040" stroke-width="0.4" >20</text>
<line x1="1116.55" y1="412" x2="1116.55" y2="419" stroke="#666" stroke-width="2" />
<text transform="translate(1115.05,440.1) scale(1,1.08)" font-size="21" font-weight="normal" fill="#404040" text-anchor="middle" stroke="#404040" stroke-width="0.4" >25</text>
<line x1="1189.1999999999998" y1="412" x2="1189.1999999999998" y2="419" stroke="#666" stroke-width="2" />
<text transform="translate(1187.6999999999998,440.1) scale(1,1.08)" font-size="21" font-weight="normal" fill="#404040" text-anchor="middle" stroke="#404040" stroke-width="0.4" >30</text>
<line x1="1261.85" y1="412" x2="1261.85" y2="419" stroke="#666" stroke-width="2" />
<text transform="translate(1260.35,440.1) scale(1,1.08)" font-size="21" font-weight="normal" fill="#404040" text-anchor="middle" stroke="#404040" stroke-width="0.4" >35</text>
<line x1="789.625" y1="412" x2="789.625" y2="416" stroke="#666" stroke-width="2" />
<line x1="862.275" y1="412" x2="862.275" y2="416" stroke="#666" stroke-width="2" />
<line x1="934.925" y1="412" x2="934.925" y2="416" stroke="#666" stroke-width="2" />
<line x1="1007.5749999999999" y1="412" x2="1007.5749999999999" y2="416" stroke="#666" stroke-width="2" />
<line x1="1080.225" y1="412" x2="1080.225" y2="416" stroke="#666" stroke-width="2" />
<line x1="1152.875" y1="412" x2="1152.875" y2="416" stroke="#666" stroke-width="2" />
<line x1="1225.5249999999999" y1="412" x2="1225.5249999999999" y2="416" stroke="#666" stroke-width="2" />
<line x1="745.3" y1="68.4" x2="753.3" y2="68.4" stroke="#666" stroke-width="2" />
<text transform="translate(738.8,74.5) scale(1,1.08)" font-size="21" font-weight="normal" fill="#404040" text-anchor="end" stroke="#404040" stroke-width="0.4" >0.0</text>
<line x1="745.3" y1="201.12" x2="753.3" y2="201.12" stroke="#666" stroke-width="2" />
<text transform="translate(738.8,207.22) scale(1,1.08)" font-size="21" font-weight="normal" fill="#404040" text-anchor="end" stroke="#404040" stroke-width="0.4" >-0.6</text>
<line x1="745.3" y1="333.84000000000003" x2="753.3" y2="333.84000000000003" stroke="#666" stroke-width="2" />
<text transform="translate(738.8,339.94000000000005) scale(1,1.08)" font-size="21" font-weight="normal" fill="#404040" text-anchor="end" stroke="#404040" stroke-width="0.4" >-1.2</text>
<line x1="748.3" y1="2.0400000000000063" x2="753.3" y2="2.0400000000000063" stroke="#666" stroke-width="2" />
<line x1="748.3" y1="134.76" x2="753.3" y2="134.76" stroke="#666" stroke-width="2" />
<line x1="748.3" y1="267.48" x2="753.3" y2="267.48" stroke="#666" stroke-width="2" />
<line x1="748.3" y1="400.19999999999993" x2="753.3" y2="400.19999999999993" stroke="#666" stroke-width="2" />
<line x1="90.9" y1="19.3" x2="137" y2="19.3" stroke="#ec1a1a" stroke-width="2.6"/>
<text x="142" y="26.1" font-size="19.5" font-weight="normal" fill="#333" text-anchor="start" textLength="99" lengthAdjust="spacingAndGlyphs" stroke="#333" stroke-width="0.35" >NFF/MgRP</text>
<line x1="90.9" y1="44.4" x2="137" y2="44.4" stroke="#4c4cdc" stroke-width="2.2" stroke-dasharray="2 3.5"/>
<text x="142" y="50.2" font-size="19.5" font-weight="normal" fill="#333" text-anchor="start" textLength="100.5" lengthAdjust="spacingAndGlyphs" stroke="#333" stroke-width="0.35" >TCP/MgRP</text>
<line x1="90.9" y1="69.7" x2="137" y2="69.7" stroke="#6ee06e" stroke-width="2.2" stroke-dasharray="2 6"/>
<text x="142" y="75.1" font-size="19.5" font-weight="normal" fill="#333" text-anchor="start" textLength="103" lengthAdjust="spacingAndGlyphs" stroke="#333" stroke-width="0.35" >ACS/MgRP</text>
<line x1="90.9" y1="93.7" x2="137" y2="93.7" stroke="#111" stroke-width="2.8"/>
<text x="142" y="99.8" font-size="19.5" font-weight="normal" fill="#333" text-anchor="start" textLength="177.5" lengthAdjust="spacingAndGlyphs" stroke="#333" stroke-width="0.35" >NFF/MgRP/Topcoat</text>
<line x1="762" y1="19.1" x2="806.3" y2="19.1" stroke="#ec1a1a" stroke-width="2.6"/>
<text x="811.5" y="24.7" font-size="19.5" font-weight="normal" fill="#333" text-anchor="start" textLength="97.5" lengthAdjust="spacingAndGlyphs" stroke="#333" stroke-width="0.35" >NFF/MgRP</text>
<line x1="762" y1="42.2" x2="806.3" y2="42.2" stroke="#2323d8" stroke-width="2.6" stroke-dasharray="9.5 6 2 5"/>
<text x="811.5" y="48.5" font-size="19.5" font-weight="normal" fill="#333" text-anchor="start" textLength="98" lengthAdjust="spacingAndGlyphs" stroke="#333" stroke-width="0.35" >TCP/MgRP</text>
<line x1="762" y1="66.4" x2="806.3" y2="66.4" stroke="#22ea22" stroke-width="2.6"/>
<text x="811.5" y="72.3" font-size="19.5" font-weight="normal" fill="#333" text-anchor="start" textLength="99.5" lengthAdjust="spacingAndGlyphs" stroke="#333" stroke-width="0.35" >ACS/MgRP</text>
<line x1="762" y1="91.2" x2="806.3" y2="91.2" stroke="#111" stroke-width="2.8"/>
<text x="811.5" y="95.8" font-size="19.5" font-weight="normal" fill="#333" text-anchor="start" textLength="173.5" lengthAdjust="spacingAndGlyphs" stroke="#333" stroke-width="0.35" >NFF/MgRP/Topcoat</text>
<text x="570" y="38.5" font-size="28" font-weight="normal" fill="#222" text-anchor="start" textLength="25.5" lengthAdjust="spacingAndGlyphs" stroke="#222" stroke-width="0.4" >a)</text>
<text x="1233" y="40.5" font-size="28" font-weight="normal" fill="#222" text-anchor="start" textLength="26" lengthAdjust="spacingAndGlyphs" stroke="#222" stroke-width="0.4" >b)</text>
<text transform="translate(91,178.6) scale(1,1.12)" font-size="19" font-weight="bold" fill="#1a1a1a" text-anchor="start" textLength="92.5" lengthAdjust="spacingAndGlyphs" stroke="#1a1a1a" stroke-width="0.5" >2024-T351</text>
<text transform="translate(1177.5,178.6) scale(1,1.12)" font-size="19" font-weight="bold" fill="#1a1a1a" text-anchor="start" textLength="92.5" lengthAdjust="spacingAndGlyphs" stroke="#1a1a1a" stroke-width="0.5" >2024-T351</text>
<text transform="translate(91,382.9) scale(1,1.04)" font-size="19" font-weight="bold" fill="#1a1a1a" text-anchor="start" textLength="28.5" lengthAdjust="spacingAndGlyphs" stroke="#1a1a1a" stroke-width="0.5" >Mg</text>
<text transform="translate(1231.3,383.7) scale(1,1.04)" font-size="19" font-weight="bold" fill="#1a1a1a" text-anchor="start" textLength="28" lengthAdjust="spacingAndGlyphs" stroke="#1a1a1a" stroke-width="0.5" >Mg</text>
<text x="340.5" y="468.5" font-size="20" font-weight="bold" fill="#1a1a1a" text-anchor="middle" textLength="77" lengthAdjust="spacingAndGlyphs" stroke="#1a1a1a" stroke-width="0.4" >Time / h</text>
<text x="1018.8" y="469.5" font-size="20" font-weight="bold" fill="#1a1a1a" text-anchor="middle" textLength="74" lengthAdjust="spacingAndGlyphs" stroke="#1a1a1a" stroke-width="0.4" >Time / h</text>
<text transform="translate(19,199.8) rotate(-90)" font-size="21.5" font-weight="bold" fill="#1a1a1a" stroke="#1a1a1a" stroke-width="0.4" text-anchor="middle" textLength="127.5" lengthAdjust="spacingAndGlyphs">E / V vs SCE</text>
<text transform="translate(686.5,205.6) rotate(-90)" font-size="21.5" font-weight="bold" fill="#1a1a1a" stroke="#1a1a1a" stroke-width="0.4" text-anchor="middle" textLength="127.5" lengthAdjust="spacingAndGlyphs">E / V vs SCE</text>
<text x="372.3" y="129.9" font-size="19.5" font-weight="normal" fill="#333" text-anchor="start" textLength="100.5" lengthAdjust="spacingAndGlyphs" stroke="#333" stroke-width="0.35" >ACS/MgRP</text>
<line x1="395.5" y1="135.8" x2="370.527741996037" y2="166.3782751068935" stroke="#262626" stroke-width="1.5" />
<polygon points="366.1,171.8 368.2,161.9 375.4,167.7" fill="#262626"/>
<text x="429" y="161.3" font-size="19" font-weight="normal" fill="#333" text-anchor="start" textLength="167.3" lengthAdjust="spacingAndGlyphs" stroke="#333" stroke-width="0.35" >NFF/MgRP/Topcoat</text>
<line x1="462.5" y1="161.5" x2="436.31573461892805" y2="204.9061312021796" stroke="#262626" stroke-width="1.5" />
<polygon points="432.7,210.9 433.4,200.8 441.3,205.6" fill="#262626"/>
<text x="318.8" y="290.6" font-size="19" font-weight="normal" fill="#333" text-anchor="start" textLength="97" lengthAdjust="spacingAndGlyphs" stroke="#333" stroke-width="0.35" >TCP/MgRP</text>
<line x1="314.4" y1="268.1" x2="295.0775887400015" y2="244.8806318472287" stroke="#262626" stroke-width="1.5" />
<polygon points="290.6,239.5 299.9,243.5 292.8,249.4" fill="#262626"/>
<text x="195" y="329.5" font-size="19" font-weight="normal" fill="#333" text-anchor="start" textLength="97.5" lengthAdjust="spacingAndGlyphs" stroke="#333" stroke-width="0.35" >NFF/MgRP</text>
<line x1="237.1" y1="304.4" x2="215.24581560493988" y2="284.2455855023334" stroke="#262626" stroke-width="1.5" />
<polygon points="210.1,279.5 219.8,282.2 213.6,289.0" fill="#262626"/>
<text x="831.6" y="161.3" font-size="19.5" font-weight="normal" fill="#333" text-anchor="start" textLength="101" lengthAdjust="spacingAndGlyphs" stroke="#333" stroke-width="0.35" >ACS/MgRP</text>
<line x1="855.3" y1="173.9" x2="830.7510266498557" y2="203.6973745491406" stroke="#262626" stroke-width="1.5" />
<polygon points="826.3,209.1 828.5,199.2 835.6,205.1" fill="#262626"/>
<text x="1054" y="134.4" font-size="19" font-weight="normal" fill="#333" text-anchor="start" textLength="168.5" lengthAdjust="spacingAndGlyphs" stroke="#333" stroke-width="0.35" >NFF/MgRP/Topcoat</text>
<line x1="1108.2" y1="146.6" x2="1091.7598745668197" y2="206.25160266465457" stroke="#262626" stroke-width="1.5" />
<polygon points="1089.9,213.0 1087.9,203.1 1096.7,205.5" fill="#262626"/>
<text x="918.7" y="282.3" font-size="19" font-weight="normal" fill="#333" text-anchor="start" textLength="98.5" lengthAdjust="spacingAndGlyphs" stroke="#333" stroke-width="0.35" >TCP/MgRP</text>
<line x1="915.4" y1="268.3" x2="849.9670875362086" y2="238.408641659995" stroke="#262626" stroke-width="1.5" />
<polygon points="843.6,235.5 853.7,235.1 849.9,243.4" fill="#262626"/>
<text x="869.3" y="329.6" font-size="19" font-weight="normal" fill="#333" text-anchor="start" textLength="98" lengthAdjust="spacingAndGlyphs" stroke="#333" stroke-width="0.35" >NFF/MgRP</text>
<line x1="896.3" y1="305" x2="872.6398601346342" y2="284.0415370050739" stroke="#262626" stroke-width="1.5" />
<polygon points="867.4,279.4 877.2,281.9 871.1,288.8" fill="#262626"/>
</svg>
</body></html>
